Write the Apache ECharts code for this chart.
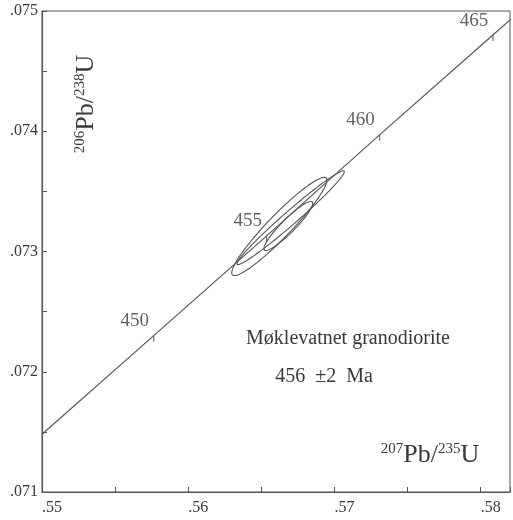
<!DOCTYPE html>
<html>
<head>
<meta charset="utf-8">
<script src="https://cdn.jsdelivr.net/npm/echarts@6/dist/echarts.min.js"></script>
<style>
html,body{margin:0;padding:0;background:#fff;}
#chart{width:513px;height:520px;}
</style>
</head>
<body>
<div id="chart"></div>
<script>
// Concordia curve points [207Pb/235U, 206Pb/238U]
const concordiaX = [0.5500, 0.55764, 0.56536, 0.57308, 0.58083, 0.58205];
const concordiaY = [0.07148, 0.07230, 0.07313, 0.07397, 0.07480, 0.07493];
// Age tick marks on the concordia
const ageLabels = [450, 455, 460, 465];
const ageX = [0.55764, 0.56536, 0.57308, 0.58083];
const ageY = [0.07230, 0.07313, 0.07397, 0.07480];
// Error ellipses: centre, half major-axis vector (data units), minor/major ratio
const ellipseCX = [0.566227, 0.567001, 0.566841];
const ellipseCY = [0.073208, 0.073281, 0.073212];
const ellipseHX = [0.003205, 0.003658, 0.001636];
const ellipseHY = [0.000403, 0.000388, 0.000200];
const ellipseRatio = [0.17, 0.095, 0.2];
// Axis ranges / tick steps
const xMin = 0.55, xMax = 0.582, xStep = 0.005;
const yMin = 0.071, yMax = 0.075, yStep = 0.0005;

const FONT = 'Liberation Serif';
const INK = '#383838';
const LINE = '#555555';

const chart = echarts.init(document.getElementById('chart'), null, {renderer:'canvas'});

const lineData = concordiaX.map((x,i)=>[x, concordiaY[i]]);
const ageData = ageX.map((x,i)=>[x, ageY[i], ageLabels[i]]);
const ellData = ellipseCX.map((x,i)=>[x, ellipseCY[i], ellipseHX[i], ellipseHY[i], ellipseRatio[i]]);

function isMultiple(v, step){
  const r = v/step;
  return Math.abs(r - Math.round(r)) < 1e-6;
}

const option = {
  backgroundColor:'#fff',
  animation:false,
  grid:{left:42, top:11, right:1, bottom:28, show:true, borderColor:LINE, borderWidth:1, backgroundColor:'transparent'},
  xAxis:{
    type:'value', min:xMin, max:xMax, interval:xStep,
    axisLine:{show:true, lineStyle:{color:LINE, width:1.2}},
    axisTick:{show:true, inside:true, length:5, lineStyle:{color:LINE}},
    splitLine:{show:false},
    axisLabel:{
      show:true, align:'left', margin:8, fontFamily:FONT, fontSize:16, color:INK,
      formatter:v=> (isMultiple(v,0.01) && v < 0.5815) ? v.toFixed(2).replace(/^0/,'') : ''
    }
  },
  yAxis:{
    type:'value', min:yMin, max:yMax, interval:yStep,
    axisLine:{show:true, lineStyle:{color:LINE, width:1.2}},
    axisTick:{show:true, inside:true, length:5, lineStyle:{color:LINE}},
    splitLine:{show:false},
    axisLabel:{
      show:true, margin:4, fontFamily:FONT, fontSize:16, color:INK,
      formatter:v=> isMultiple(v,0.001) ? v.toFixed(3).replace(/^0/,'') : ''
    }
  },
  series:[
    {
      type:'line', data:lineData, showSymbol:false, silent:true,
      lineStyle:{color:LINE, width:1.2}
    },
    {
      type:'scatter', data:ageData, symbol:'rect', symbolSize:[1.3,6], symbolOffset:[0,3],
      itemStyle:{color:LINE},
      label:{show:true, position:'top', distance:5, offset:[-19,0],
        formatter:p=>String(p.value[2]), fontFamily:FONT, fontSize:19, color:INK}
    },
    {
      type:'custom', data:ellData, silent:true,
      renderItem:function(params, api){
        const c = api.coord([api.value(0), api.value(1)]);
        const t = api.coord([api.value(0)+api.value(2), api.value(1)+api.value(3)]);
        const dx = t[0]-c[0], dy = t[1]-c[1];
        const a = Math.hypot(dx,dy), b = a*api.value(4);
        const ang = Math.atan2(dy,dx);
        const pts = [];
        for(let i=0;i<=96;i++){
          const th = i/96*2*Math.PI;
          const ex = a*Math.cos(th), ey = b*Math.sin(th);
          pts.push([c[0]+ex*Math.cos(ang)-ey*Math.sin(ang), c[1]+ex*Math.sin(ang)+ey*Math.cos(ang)]);
        }
        return {type:'polygon', shape:{points:pts}, style:{fill:'none', stroke:LINE, lineWidth:1.1}};
      }
    }
  ],
  graphic:[
    {
      type:'text', x:86, y:104, rotation:Math.PI/2,
      style:{
        text:'{s|206}{m|Pb/}{s|238}{m|U}', align:'center', verticalAlign:'middle',
        fill:INK,
        rich:{
          s:{fontFamily:FONT, fontSize:15, lineHeight:26, verticalAlign:'top', fill:INK},
          m:{fontFamily:FONT, fontSize:26, lineHeight:26, fill:INK}
        }
      }
    },
    {
      type:'text', x:430, y:455,
      style:{
        text:'{s|207}{m|Pb/}{s|235}{m|U}', align:'center', verticalAlign:'middle',
        fill:INK,
        rich:{
          s:{fontFamily:FONT, fontSize:15, lineHeight:26, verticalAlign:'top', fill:INK},
          m:{fontFamily:FONT, fontSize:26, lineHeight:26, fill:INK}
        }
      }
    },
    {
      type:'text', x:348, y:339,
      style:{text:'Møklevatnet granodiorite', align:'center', verticalAlign:'middle',
        font:'20px "Liberation Serif"', fill:INK}
    },
    {
      type:'text', x:324, y:377,
      style:{text:'456  ±2  Ma', align:'center', verticalAlign:'middle',
        font:'20px "Liberation Serif"', fill:INK}
    }
  ]
};
chart.setOption(option);
</script>
</body>
</html>
